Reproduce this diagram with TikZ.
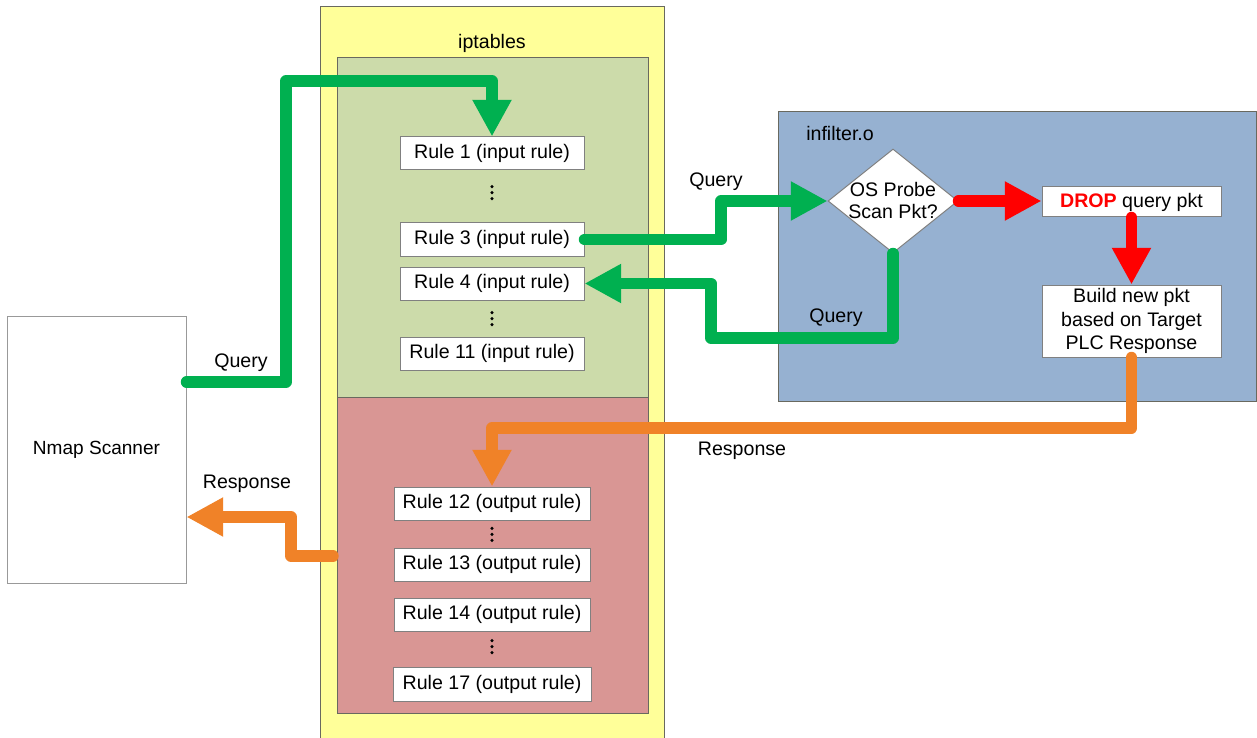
\documentclass[tikz,border=0pt]{standalone}
\usepackage{fontspec}
\setmainfont{Liberation Sans}
\usetikzlibrary{arrows.meta,shapes.geometric}
\newdimen\pxu \pxu=0.75pt
\definecolor{flowgreen}{RGB}{0,176,80}
\definecolor{flowred}{RGB}{255,0,0}
\definecolor{floworange}{RGB}{240,130,40}
\definecolor{iptyellow}{RGB}{255,255,153}
\definecolor{ingreen}{RGB}{204,219,170}
\definecolor{outred}{RGB}{217,150,148}
\definecolor{filtblue}{RGB}{150,177,209}
\definecolor{boxgray}{RGB}{128,128,128}
\definecolor{regbord}{RGB}{105,105,95}
\newcommand{\fs}{\fontsize{14.7pt}{17.6pt}\selectfont}
\begin{document}
\begin{tikzpicture}[x=0.75pt,y=-0.75pt,
  lbl/.style={font=\fs, inner sep=0},
  rulebox/.style={draw=boxgray, fill=white, line width=0.75pt, minimum height=33\pxu, minimum width=184\pxu, inner sep=0, font=\fs},
  outbox/.style={rulebox, minimum width=196\pxu},
  region/.style={draw=regbord, line width=0.75pt, inner sep=0},
  flow/.style={line width=8.6pt, line join=round, line cap=round, -{Triangle[length=27.5pt,width=27.5pt]}},
]
\useasboundingbox (0,0) rectangle (1257,738);

% containers
\node[region, fill=iptyellow, minimum width=344\pxu, minimum height=760\pxu] (ipt) at (492,387) {};
\node[region, fill=ingreen, minimum width=311\pxu, minimum height=339\pxu] (inreg) at (492.5,227.5) {};
\node[region, fill=outred, minimum width=311\pxu, minimum height=316\pxu] (outreg) at (492.5,555) {};
\node[region, fill=filtblue, minimum width=478\pxu, minimum height=289\pxu] (filt) at (1017,256.5) {};
\node[draw=boxgray!80, line width=0.75pt, fill=white, minimum width=179\pxu, minimum height=267\pxu, inner sep=0,
      font=\fontsize{14.3pt}{16pt}\selectfont] (nmap) at (96.5,449.5) {Nmap Scanner};

% titles
\node[lbl] (iptlbl) at (492,43) {iptables};
\node[lbl, anchor=west] (filtlbl) at (806,133) {infilter.o};

% input rules
\node[rulebox] (r1) at (492,153.5) {Rule 1 (input rule)};
\node[rulebox] (r3) at (492,239.5) {Rule 3 (input rule)};
\node[rulebox] (r4) at (492,283.5) {Rule 4 (input rule)};
\node[rulebox] (r11) at (492,353.5) {Rule 11 (input rule)};

% output rules
\node[outbox] (r12) at (492,503.5) {Rule 12 (output rule)};
\node[outbox] (r13) at (492,564.5) {Rule 13 (output rule)};
\node[outbox] (r14) at (492,614.5) {Rule 14 (output rule)};
\node[outbox, minimum width=198\pxu, minimum height=34\pxu] (r17) at (492,684) {Rule 17 (output rule)};

% ellipsis dots
\foreach \yy in {192.7,318.7,534.3,646.7}{
  \foreach \dd in {-6,0,6}{
    \fill (492,\yy+\dd) circle[radius=1.3pt];
  }
}

% infilter contents
\node[draw=boxgray, fill=white, line width=0.75pt, shape=diamond, minimum width=130\pxu, minimum height=104\pxu, inner sep=0] (d) at (893,201) {};
\node[lbl, align=center, font=\fontsize{14.7pt}{16.5pt}\selectfont] (dtxt) at (893,200.5) {OS Probe\\Scan Pkt?};
\node[draw=boxgray, fill=white, line width=0.75pt, minimum width=179\pxu, minimum height=30\pxu, inner sep=0, font=\fs] (drop) at (1131.5,202) {\textcolor{flowred}{\textbf{DROP}} query pkt};
\node[draw=boxgray, fill=white, line width=0.75pt, minimum width=179\pxu, minimum height=72\pxu, inner sep=0, align=center, font=\fs] (build) at (1131.5,321) {Build new pkt\\based on Target\\PLC Response};

% connectors
\draw[flow, flowgreen] (nmap.east |- 0,382) -| (286,81) -| (r1.north);
\draw[flow, flowgreen] (r3.east) -- (721,239.5) |- (d.west);
\draw[flow, flowgreen] (d.south) |- (711,338) |- (r4.east);
\draw[flow, flowred] (d.east) -- (d.east -| drop.west);
\draw[flow, flowred] (drop.south) -- (build.north);
\draw[flow, floworange] (build.south) |- (492,428) -- (r12.north);
\coordinate (rsrc) at (333,556);
\draw[flow, floworange] (rsrc) -| (291,517) -- (nmap.east |- 291,517);

% connector labels
\node[lbl] (q1) at (241,363) {Query};
\node[lbl] (q2) at (716,182) {Query};
\node[lbl] (q3) at (836,318) {Query};
\node[lbl] (resp1) at (742,451) {Response};
\node[lbl] (resp2) at (247,484) {Response};
\end{tikzpicture}
\end{document}
